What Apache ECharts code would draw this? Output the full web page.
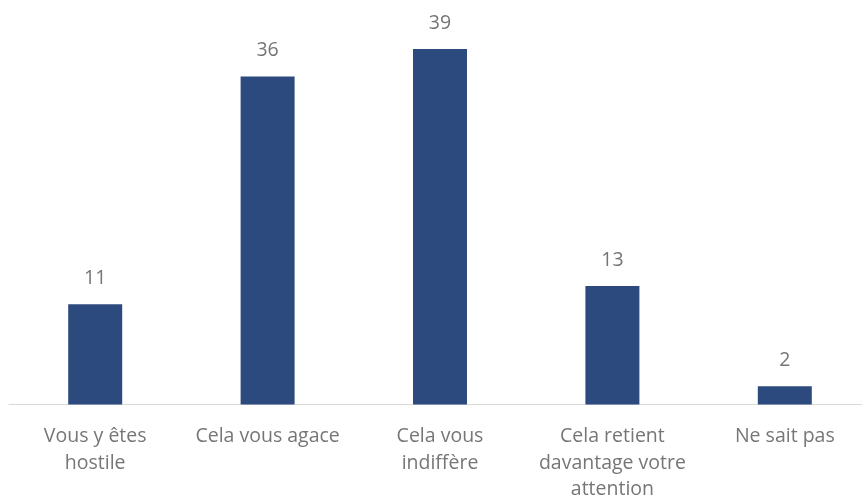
<!DOCTYPE html>
<html>
<head>
<meta charset="utf-8">
<style>
  html, body { margin: 0; padding: 0; background: #ffffff; }
  #chart { width: 862px; height: 498px; }
</style>
<script src="https://cdn.jsdelivr.net/npm/echarts@6/dist/echarts.min.js"></script>
</head>
<body>
<div id="chart"></div>
<script>
// Reactions, in % of respondents
const categories = [
  'Vous y êtes\nhostile',
  'Cela vous agace',
  'Cela vous\nindiffère',
  'Cela retient\ndavantage votre\nattention',
  'Ne sait pas'
];
const values = [11, 36, 39, 13, 2];

const textColor = '#767676';
const fontFamily = '"Open Sans", "Noto Sans", sans-serif';

const chart = echarts.init(document.getElementById('chart'));
chart.setOption({
  animation: false,
  grid: { left: 9, top: 40, width: 862, height: 364.5, outerBoundsMode: 'none' },
  xAxis: {
    type: 'category',
    data: categories,
    axisLine: { lineStyle: { color: '#d9d9d9', width: 1 } },
    axisTick: { show: false },
    axisLabel: {
      interval: 0,
      margin: 19,
      color: textColor,
      fontFamily: fontFamily,
      fontSize: 19.5,
      lineHeight: 26.5
    }
  },
  yAxis: {
    type: 'value',
    min: 0,
    max: 40,
    show: false,
    splitLine: { show: false }
  },
  series: [{
    type: 'bar',
    data: values,
    barWidth: 54,
    itemStyle: { color: '#2d4a7e' },
    label: {
      show: true,
      position: 'top',
      distance: 16,
      color: textColor,
      fontFamily: fontFamily,
      fontSize: 19.5
    }
  }]
});
</script>
</body>
</html>
